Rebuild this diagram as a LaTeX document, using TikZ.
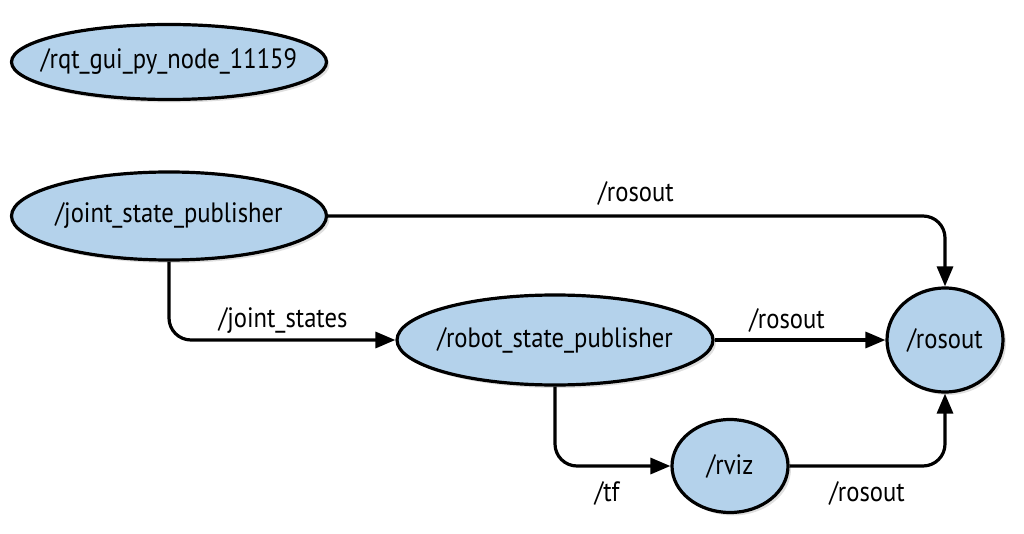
\documentclass[tikz,border=0pt]{standalone}
\usepackage{fontspec}
\setmainfont{PT Sans}[FakeStretch=0.88]
\usetikzlibrary{shapes.geometric,arrows.meta,shadows}
\definecolor{nodefill}{HTML}{B4D2EB}
\newcommand{\zw}[1]{\makebox[0pt][c]{#1}}
\begin{document}
\begin{tikzpicture}[x=1pt,y=-1pt,
  rosnode/.style={ellipse,draw=black,line width=3.2pt,fill=nodefill,inner sep=0pt,
    font=\fontsize{28}{32}\selectfont,
    drop shadow={shadow xshift=3pt,shadow yshift=-3pt,opacity=0.25,fill=gray}},
  conn/.style={line width=3.2pt,rounded corners=22pt,-{Triangle[length=20pt,width=16pt]}},
  lbl/.style={font=\fontsize{28}{32}\selectfont,inner sep=0pt}]
\useasboundingbox (0,0) rectangle (1024,534);
\node[rosnode,minimum width=315pt,minimum height=75pt] (rqt) at (169,62) {\zw{/rqt\_gui\_py\_node\_11159}};
\node[rosnode,minimum width=315pt,minimum height=88pt] (jsp) at (169,216) {\zw{/joint\_state\_publisher}};
\node[rosnode,minimum width=316pt,minimum height=90pt] (rsp) at (555,340) {\zw{/robot\_state\_publisher}};
\node[rosnode,minimum width=116pt,minimum height=104pt] (ros) at (945,340) {\zw{/rosout}};
\node[rosnode,minimum width=116pt,minimum height=93pt] (rviz) at (730,466) {\zw{/rviz}};
\draw[conn] (jsp.east) -- (jsp.east -| ros.north) -- (ros.north);
\draw[conn] (jsp.south) -- (jsp.south |- rsp.west) -- (rsp.west);
\draw[conn] (rsp.east) -- (ros.west);
\draw[conn] (rsp.south) -- (rsp.south |- rviz.west) -- (rviz.west);
\draw[conn] (rviz.east) -- (rviz.east -| ros.south) -- (ros.south);
\node[lbl] (l1) at (636,193) {/rosout};
\node[lbl] (l2) at (283,320) {/joint\_states};
\node[lbl] (l3) at (787,320) {/rosout};
\node[lbl] (l4) at (607,493) {/tf};
\node[lbl] (l5) at (867,493) {/rosout};
\end{tikzpicture}
\end{document}
